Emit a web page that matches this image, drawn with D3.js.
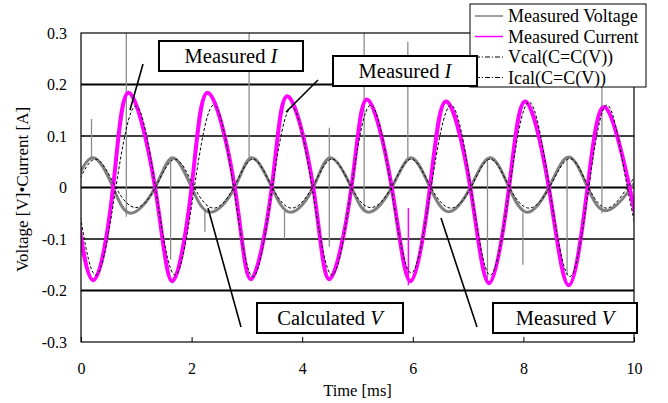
<!DOCTYPE html>
<html lang="en">
<head>
<meta charset="utf-8">
<title>Voltage and current</title>
<script src="https://cdn.jsdelivr.net/npm/d3@7"></script>
<style>
  body { margin: 0; background: #fff; }
  svg text { font-family: "Liberation Serif", "Times New Roman", serif; fill: #000; }
  .axis path.domain { stroke: none; }
  .axis line { stroke: #000; }
</style>
</head>
<body>
<div id="viz"></div>
<script>
// values: key points (extrema and zero crossings) of each wave, time in ms
var imeasT = [-0.13, 0.22, 0.58, 0.86, 1.34, 1.65, 2.00, 2.29, 2.78, 3.07, 3.45, 3.73, 4.20, 4.49, 4.89, 5.17, 5.62, 5.96, 6.31, 6.60, 7.04, 7.38, 7.74, 8.03, 8.46, 8.82, 9.16, 9.47, 9.92, 10.27];
var imeasV = [0, -0.180, 0, 0.184, 0, -0.182, 0, 0.184, 0, -0.178, 0, 0.177, 0, -0.178, 0, 0.171, 0, -0.182, 0, 0.167, 0, -0.186, 0, 0.167, 0, -0.190, 0, 0.156, 0, -0.180];

var vmeasT = [-0.13, 0.22, 0.58, 0.90, 1.34, 1.66, 2.00, 2.34, 2.78, 3.09, 3.45, 3.79, 4.20, 4.51, 4.89, 5.20, 5.62, 5.97, 6.31, 6.65, 7.04, 7.40, 7.74, 8.07, 8.46, 8.82, 9.16, 9.50, 9.95, 10.27];
var vmeasV = [0, 0.058, 0, -0.050, 0, 0.058, 0, -0.048, 0, 0.058, 0, -0.048, 0, 0.058, 0, -0.048, 0, 0.058, 0, -0.047, 0, 0.058, 0, -0.048, 0, 0.059, 0, -0.045, 0, 0.058];

var calcT = [-0.09, 0.27, 0.63, 0.99, 1.345, 1.70, 2.05, 2.40, 2.76, 3.11, 3.46, 3.81, 4.18, 4.54, 4.89, 5.24, 5.61, 5.97, 6.33, 6.69, 7.05, 7.40, 7.75, 8.10, 8.47, 8.84, 9.18, 9.52, 9.88, 10.24];
var icalV = [0, -0.170, 0, 0.158, 0, -0.170, 0, 0.160, 0, -0.173, 0, 0.156, 0, -0.170, 0, 0.160, 0, -0.166, 0, 0.160, 0, -0.170, 0, 0.166, 0, -0.173, 0, 0.160, 0, -0.168];
var vcalV = [0, 0.055, 0, -0.039, 0, 0.055, 0, -0.040, 0, 0.055, 0, -0.040, 0, 0.055, 0, -0.039, 0, 0.055, 0, -0.040, 0, 0.055, 0, -0.040, 0, 0.056, 0, -0.040, 0, 0.055];

// spikes in the measured signals
var vSpikeT  = [0.19, 0.82, 1.62, 2.24, 3.04, 3.68, 4.49, 5.12, 5.91, 7.35, 7.99, 8.79, 9.42];
var vSpikeLo = [0.055, -0.057, -0.140, -0.086, 0.058, -0.100, -0.115, -0.047, 0.055, -0.185, -0.150, -0.170, -0.050];
var vSpikeHi = [0.133, 0.320, 0.058, -0.045, 0.320, -0.045, 0.116, 0.320, 0.283, 0.055, -0.050, 0.060, 0.320];
var iSpikeT  = [5.92];
var iSpikeLo = [-0.190];
var iSpikeHi = [-0.040];

var xTicks = [0, 2, 4, 6, 8, 10];
var yTicks = [-0.3, -0.2, -0.1, 0, 0.1, 0.2, 0.3];
var yTickLabels = ["-0.3", "-0.2", "-0.1", "0", "0.1", "0.2", "0.3"];
var legendNames = ["Measured Voltage", "Measured Current", "Vcal(C=C(V))", "Ical(C=C(V))"];

var w = 668, h = 403;
var margin = {top: 33, right: 34, bottom: 61, left: 81};

var xScale = d3.scaleLinear().domain([0, 10]).range([margin.left, w - margin.right]);
var yScale = d3.scaleLinear().domain([-0.3, 0.3]).range([h - margin.bottom, margin.top]);

var svg = d3.select("#viz").append("svg")
  .attr("width", w)
  .attr("height", h)
  .attr("viewBox", "0 0 " + w + " " + h);

svg.append("defs").append("clipPath").attr("id", "plotclip")
  .append("rect")
  .attr("x", xScale(0)).attr("y", yScale(0.3))
  .attr("width", xScale(10) - xScale(0))
  .attr("height", yScale(-0.3) - yScale(0.3));

// grid lines
svg.append("g").selectAll("line")
  .data(yTicks.filter(d => Math.abs(d) < 0.29))
  .enter().append("line")
  .attr("x1", xScale(0)).attr("x2", xScale(10))
  .attr("y1", d => yScale(d)).attr("y2", d => yScale(d))
  .attr("stroke", "#000")
  .attr("stroke-width", d => Math.round(d * 10) % 2 === 0 ? 2.2 : 1.3);

// axes
svg.append("g").attr("class", "axis")
  .attr("transform", "translate(" + xScale(0) + ",0)")
  .call(d3.axisLeft(yScale).tickValues(yTicks).tickSize(0).tickPadding(14)
    .tickFormat((d, i) => yTickLabels[i]))
  .selectAll("text").style("font-size", "16px");

svg.append("g").attr("class", "axis")
  .attr("transform", "translate(0," + yScale(-0.3) + ")")
  .call(d3.axisBottom(xScale).tickValues(xTicks).tickSize(-5).tickPadding(21))
  .selectAll("text").style("font-size", "16px");

var plot = svg.append("g").attr("clip-path", "url(#plotclip)");

function wave(ts, vs) {
  return d3.line()
    .x((d, i) => xScale(ts[i]))
    .y(d => yScale(d))
    .curve(d3.curveNatural)(vs);
}

function spikes(ts, lo, hi, color, width) {
  plot.append("g").selectAll("line")
    .data(ts).enter().append("line")
    .attr("x1", d => xScale(d)).attr("x2", d => xScale(d))
    .attr("y1", (d, i) => yScale(lo[i])).attr("y2", (d, i) => yScale(hi[i]))
    .attr("stroke", color).attr("stroke-width", width);
}

// measured voltage
spikes(vSpikeT, vSpikeLo, vSpikeHi, "#8c8c8c", 1.3);
plot.append("path").attr("d", wave(vmeasT, vmeasV))
  .attr("fill", "none").attr("stroke", "#808080").attr("stroke-width", 3);

// measured current
spikes(iSpikeT, iSpikeLo, iSpikeHi, "#ff00ff", 1.5);
plot.append("path").attr("d", wave(imeasT, imeasV))
  .attr("fill", "none").attr("stroke", "#ff00ff").attr("stroke-width", 4);

// calculated
plot.append("path").attr("d", wave(calcT, vcalV))
  .attr("fill", "none").attr("stroke", "#000").attr("stroke-width", 1)
  .attr("stroke-dasharray", "3,2");
plot.append("path").attr("d", wave(calcT, icalV))
  .attr("fill", "none").attr("stroke", "#000").attr("stroke-width", 1)
  .attr("stroke-dasharray", "3,2");

// frame
svg.append("rect")
  .attr("x", xScale(0)).attr("y", yScale(0.3))
  .attr("width", xScale(10) - xScale(0))
  .attr("height", yScale(-0.3) - yScale(0.3))
  .attr("fill", "none").attr("stroke", "#000").attr("stroke-width", 1.2);

// axis titles
svg.append("text")
  .attr("x", (xScale(0) + xScale(10)) / 2)
  .attr("y", 396)
  .attr("text-anchor", "middle")
  .style("font-size", "16.5px")
  .text("Time [ms]");

svg.append("text")
  .attr("transform", "translate(28," + (yScale(0) + 2) + ") rotate(-90)")
  .attr("text-anchor", "middle")
  .style("font-size", "17px")
  .text("Voltage [V]\u2022Current [A]");

// legend
var legend = svg.append("g");
legend.append("rect")
  .attr("x", 470).attr("y", 4).attr("width", 176).attr("height", 83)
  .attr("fill", "#fff").attr("stroke", "#000").attr("stroke-width", 1);

var legendStroke = ["#808080", "#ff00ff", "#000", "#000"];
var legendDash = [null, null, "5,2,1,2", "5,2,1,2"];
legend.selectAll("line").data(legendNames).enter().append("line")
  .attr("x1", 475).attr("x2", 503)
  .attr("y1", (d, i) => 16 + i * 20.5).attr("y2", (d, i) => 16 + i * 20.5)
  .attr("stroke", (d, i) => legendStroke[i])
  .attr("stroke-width", (d, i) => i < 2 ? 1.5 : 1)
  .attr("stroke-dasharray", (d, i) => legendDash[i]);
legend.selectAll("text").data(legendNames).enter().append("text")
  .attr("x", 508)
  .attr("y", (d, i) => 16 + i * 20.5)
  .attr("dy", "0.35em")
  .style("font-size", "18px")
  .text(d => d);

// annotation boxes with leader lines
var notes = [
  {x: 159, y: 41, w: 144, h: 30, a: "Measured ", b: "I", lx1: 143, ly1: 64, lx2: 130, ly2: 110},
  {x: 333, y: 56, w: 144, h: 30, a: "Measured ", b: "I", lx1: 318, ly1: 80, lx2: 286, ly2: 112},
  {x: 257, y: 303, w: 146, h: 30, a: "Calculated ", b: "V", lx1: 208, ly1: 208, lx2: 241, ly2: 327},
  {x: 493, y: 303, w: 144, h: 30, a: "Measured ", b: "V", lx1: 441, ly1: 218, lx2: 477, ly2: 327}
];

notes.forEach(function(n) {
  svg.append("line")
    .attr("x1", n.lx1).attr("y1", n.ly1).attr("x2", n.lx2).attr("y2", n.ly2)
    .attr("stroke", "#000").attr("stroke-width", 1.6);
  svg.append("rect")
    .attr("x", n.x).attr("y", n.y).attr("width", n.w).attr("height", n.h)
    .attr("fill", "#fff").attr("stroke", "#000").attr("stroke-width", 2);
  var t = svg.append("text")
    .attr("x", n.x + n.w / 2).attr("y", n.y + n.h / 2)
    .attr("dy", "0.35em")
    .attr("text-anchor", "middle")
    .style("font-size", "20.5px");
  t.append("tspan").text(n.a);
  t.append("tspan").style("font-style", "italic").text(n.b);
});
</script>
</body>
</html>
